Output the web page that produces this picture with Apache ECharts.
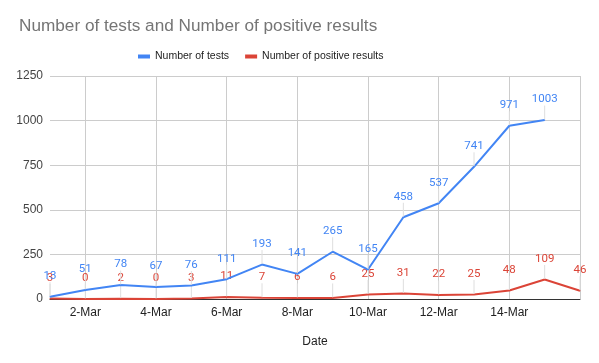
<!DOCTYPE html>
<html>
<head>
<meta charset="utf-8">
<script src="https://cdn.jsdelivr.net/npm/echarts@6/dist/echarts.min.js"></script>
<style>html,body{margin:0;padding:0;background:#fff}#c{width:599px;height:363px}</style>
</head>
<body>
<div id="c"></div>
<script>
const dates = ['1-Mar','2-Mar','3-Mar','4-Mar','5-Mar','6-Mar','7-Mar','8-Mar','9-Mar','10-Mar','11-Mar','12-Mar','13-Mar','14-Mar','15-Mar','16-Mar'];
const tests = [13, 51, 78, 67, 76, 111, 193, 141, 265, 165, 458, 537, 741, 971, 1003, null];
const positives = [3, 0, 2, 0, 3, 11, 7, 6, 6, 25, 31, 22, 25, 48, 109, 46];
const yTicks = [0, 250, 500, 750, 1000, 1250];

const FONT = 'Arial, "Liberation Sans", sans-serif';
const LABELFONT = 'Roboto, Arial, sans-serif';
const chart = echarts.init(document.getElementById('c'), null, {renderer: 'canvas'});

function seriesOf(name, data, color, z) {
  return {
    name: name, type: 'line', data: data, z: z,
    symbol: 'circle', symbolSize: 1, showSymbol: true,
    itemStyle: {color: color},
    lineStyle: {color: color, width: 2},
    emphasis: {disabled: true},
    label: {show: true, position: 'top', distance: 1, color: color, fontSize: 11.5, fontFamily: LABELFONT},
    labelLayout: {dy: -13},
    labelLine: {show: true, lineStyle: {color: '#dedede', width: 1}}
  };
}

chart.setOption({
  animation: false,
  color: ['#4285f4', '#db4437'],
  title: {
    text: 'Number of tests and Number of positive results',
    left: 14, top: 13,
    textStyle: {fontFamily: FONT, fontSize: 17.2, fontWeight: 'normal', color: '#757575'}
  },
  legend: {
    top: 46, left: 133,
    icon: 'rect', itemWidth: 12, itemHeight: 4, itemGap: 16, itemTextGap: 7,
    textStyle: {fontFamily: FONT, fontSize: 10.5, color: '#222'},
    data: ['Number of tests', 'Number of positive results']
  },
  grid: {left: 50, right: 19, top: 76, bottom: 64},
  xAxis: {
    type: 'category', data: dates, boundaryGap: false,
    name: 'Date', nameLocation: 'middle', nameGap: 37,
    nameTextStyle: {fontFamily: FONT, fontSize: 12, color: '#222'},
    axisLine: {lineStyle: {color: '#333', width: 1}},
    axisTick: {show: false},
    axisLabel: {interval: (i) => i % 2 === 1 && i < dates.length - 1, fontFamily: FONT, fontSize: 12, color: '#222', margin: 8},
    splitLine: {show: true, interval: (i) => i % 2 === 1, lineStyle: {color: '#cccccc'}}
  },
  yAxis: {
    type: 'value', min: yTicks[0], max: yTicks[yTicks.length - 1], interval: 250,
    axisLine: {show: false}, axisTick: {show: false},
    axisLabel: {formatter: (v) => String(v), fontFamily: FONT, fontSize: 12, color: '#444', margin: 7},
    splitLine: {lineStyle: {color: '#cccccc'}}
  },
  series: [
    seriesOf('Number of tests', tests, '#4285f4', 3),
    seriesOf('Number of positive results', positives, '#db4437', 2)
  ]
});
</script>
</body>
</html>
